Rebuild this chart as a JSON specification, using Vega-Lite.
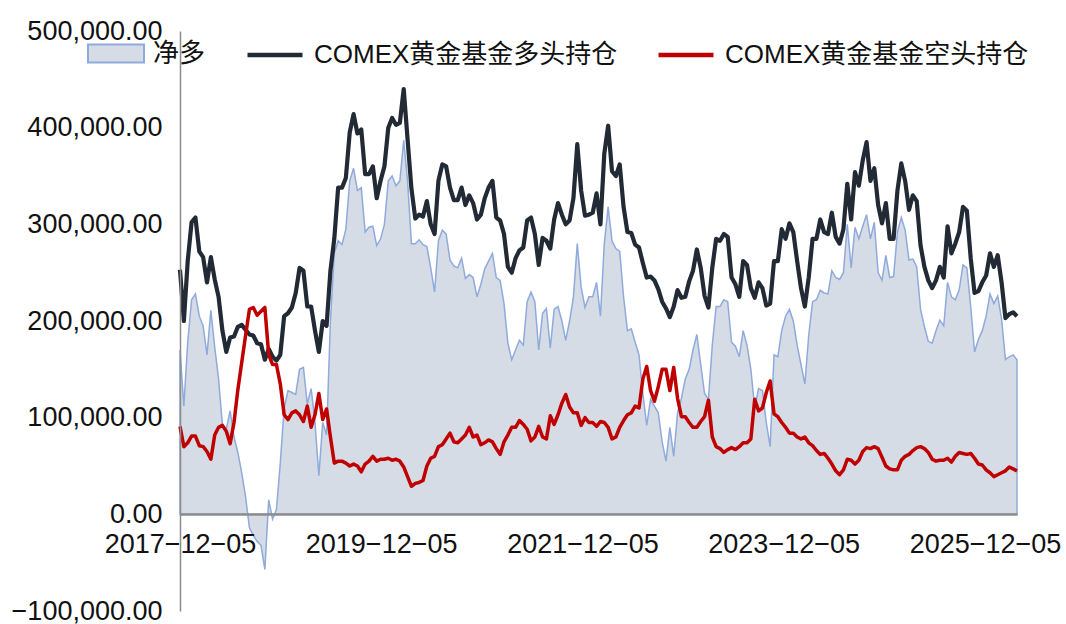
{
"$schema": "https://vega.github.io/schema/vega-lite/v6.json",
"width": 837, "height": 580,
"autosize": {"type": "none"},
"padding": {"left": 180, "top": 31, "right": 49, "bottom": 13},
"background": "white",
"config": {"view": {"stroke": null}, "font": "Liberation Sans"},
"data": {"values": [
{"d":"2017-12-05","l":253000,"s":91000,"n":170000},
{"d":"2017-12-19","l":200000,"s":70000,"n":112000},
{"d":"2018-01-02","l":262000,"s":74000,"n":178000},
{"d":"2018-01-16","l":302000,"s":81000,"n":222000},
{"d":"2018-01-30","l":307000,"s":81000,"n":228000},
{"d":"2018-02-13","l":272000,"s":71000,"n":205000},
{"d":"2018-02-27","l":266000,"s":70000,"n":195000},
{"d":"2018-03-13","l":240000,"s":65000,"n":165000},
{"d":"2018-03-27","l":266000,"s":57000,"n":211000},
{"d":"2018-04-10","l":243000,"s":82000,"n":173000},
{"d":"2018-04-24","l":225000,"s":90000,"n":140000},
{"d":"2018-05-08","l":190000,"s":92000,"n":92000},
{"d":"2018-05-22","l":168000,"s":86000,"n":88000},
{"d":"2018-06-05","l":183000,"s":73000,"n":107000},
{"d":"2018-06-19","l":184000,"s":95000,"n":80000},
{"d":"2018-07-03","l":194000,"s":129000,"n":64000},
{"d":"2018-07-17","l":196000,"s":157000,"n":43000},
{"d":"2018-07-31","l":191000,"s":185000,"n":18000},
{"d":"2018-08-14","l":186000,"s":212000,"n":-14000},
{"d":"2018-08-28","l":185000,"s":214000,"n":-22000},
{"d":"2018-09-11","l":177000,"s":206000,"n":-28000},
{"d":"2018-09-25","l":176000,"s":210000,"n":-32000},
{"d":"2018-10-09","l":160000,"s":214000,"n":-57000},
{"d":"2018-10-23","l":171000,"s":165000,"n":15000},
{"d":"2018-11-06","l":163000,"s":155000,"n":-5000},
{"d":"2018-11-20","l":159000,"s":155000,"n":5000},
{"d":"2018-12-04","l":165000,"s":135000,"n":53000},
{"d":"2018-12-18","l":205000,"s":103000,"n":110000},
{"d":"2019-01-01","l":208000,"s":98000,"n":128000},
{"d":"2019-01-15","l":214000,"s":105000,"n":126000},
{"d":"2019-01-29","l":229000,"s":107000,"n":124000},
{"d":"2019-02-12","l":255000,"s":103000,"n":150000},
{"d":"2019-02-26","l":252000,"s":96000,"n":152000},
{"d":"2019-03-12","l":215000,"s":112000,"n":114000},
{"d":"2019-03-26","l":215000,"s":90000,"n":130000},
{"d":"2019-04-09","l":190000,"s":103000,"n":95000},
{"d":"2019-04-23","l":168000,"s":125000,"n":40000},
{"d":"2019-05-07","l":200000,"s":98000,"n":95000},
{"d":"2019-05-21","l":195000,"s":109000,"n":82000},
{"d":"2019-06-04","l":252000,"s":80000,"n":200000},
{"d":"2019-06-18","l":285000,"s":53000,"n":270000},
{"d":"2019-07-02","l":338000,"s":55000,"n":283000},
{"d":"2019-07-16","l":338000,"s":55000,"n":279000},
{"d":"2019-07-30","l":348000,"s":53000,"n":295000},
{"d":"2019-08-13","l":395000,"s":50000,"n":345000},
{"d":"2019-08-27","l":414000,"s":52000,"n":358000},
{"d":"2019-09-10","l":394000,"s":50000,"n":335000},
{"d":"2019-09-24","l":398000,"s":44000,"n":338000},
{"d":"2019-10-08","l":352000,"s":52000,"n":292000},
{"d":"2019-10-22","l":352000,"s":55000,"n":297000},
{"d":"2019-11-05","l":360000,"s":60000,"n":298000},
{"d":"2019-11-19","l":327000,"s":55000,"n":278000},
{"d":"2019-12-03","l":345000,"s":57000,"n":285000},
{"d":"2019-12-17","l":360000,"s":57000,"n":300000},
{"d":"2019-12-31","l":400000,"s":58000,"n":345000},
{"d":"2020-01-14","l":410000,"s":56000,"n":350000},
{"d":"2020-01-28","l":403000,"s":57000,"n":340000},
{"d":"2020-02-11","l":405000,"s":55000,"n":345000},
{"d":"2020-02-25","l":440000,"s":49000,"n":387000},
{"d":"2020-03-10","l":388000,"s":39000,"n":345000},
{"d":"2020-03-24","l":337000,"s":29000,"n":280000},
{"d":"2020-04-07","l":306000,"s":32000,"n":280000},
{"d":"2020-04-21","l":310000,"s":33000,"n":284000},
{"d":"2020-05-05","l":308000,"s":35000,"n":279000},
{"d":"2020-05-19","l":324000,"s":50000,"n":277000},
{"d":"2020-06-02","l":300000,"s":58000,"n":255000},
{"d":"2020-06-16","l":290000,"s":60000,"n":230000},
{"d":"2020-06-30","l":345000,"s":70000,"n":283000},
{"d":"2020-07-14","l":362000,"s":72000,"n":294000},
{"d":"2020-07-28","l":360000,"s":78000,"n":290000},
{"d":"2020-08-11","l":338000,"s":84000,"n":263000},
{"d":"2020-08-25","l":325000,"s":75000,"n":257000},
{"d":"2020-09-08","l":325000,"s":74000,"n":255000},
{"d":"2020-09-22","l":338000,"s":78000,"n":265000},
{"d":"2020-10-06","l":320000,"s":82000,"n":244000},
{"d":"2020-10-20","l":330000,"s":90000,"n":248000},
{"d":"2020-11-03","l":322000,"s":80000,"n":245000},
{"d":"2020-11-17","l":305000,"s":82000,"n":225000},
{"d":"2020-12-01","l":310000,"s":72000,"n":238000},
{"d":"2020-12-15","l":327000,"s":74000,"n":254000},
{"d":"2020-12-29","l":338000,"s":77000,"n":262000},
{"d":"2021-01-12","l":345000,"s":75000,"n":270000},
{"d":"2021-01-26","l":307000,"s":68000,"n":245000},
{"d":"2021-02-09","l":304000,"s":62000,"n":242000},
{"d":"2021-02-23","l":290000,"s":75000,"n":218000},
{"d":"2021-03-09","l":256000,"s":82000,"n":177000},
{"d":"2021-03-23","l":250000,"s":90000,"n":160000},
{"d":"2021-04-06","l":265000,"s":90000,"n":170000},
{"d":"2021-04-20","l":273000,"s":97000,"n":180000},
{"d":"2021-05-04","l":276000,"s":93000,"n":175000},
{"d":"2021-05-18","l":304000,"s":88000,"n":220000},
{"d":"2021-06-01","l":307000,"s":76000,"n":230000},
{"d":"2021-06-15","l":290000,"s":80000,"n":220000},
{"d":"2021-06-29","l":258000,"s":91000,"n":170000},
{"d":"2021-07-13","l":286000,"s":80000,"n":208000},
{"d":"2021-07-27","l":283000,"s":78000,"n":213000},
{"d":"2021-08-10","l":275000,"s":102000,"n":172000},
{"d":"2021-08-24","l":305000,"s":93000,"n":212000},
{"d":"2021-09-07","l":322000,"s":103000,"n":215000},
{"d":"2021-09-21","l":310000,"s":115000,"n":200000},
{"d":"2021-10-05","l":300000,"s":124000,"n":180000},
{"d":"2021-10-19","l":304000,"s":111000,"n":200000},
{"d":"2021-11-02","l":327000,"s":105000,"n":225000},
{"d":"2021-11-16","l":383000,"s":105000,"n":280000},
{"d":"2021-11-30","l":335000,"s":92000,"n":235000},
{"d":"2021-12-14","l":309000,"s":100000,"n":214000},
{"d":"2021-12-28","l":310000,"s":95000,"n":225000},
{"d":"2022-01-11","l":312000,"s":95000,"n":225000},
{"d":"2022-01-25","l":332000,"s":91000,"n":240000},
{"d":"2022-02-08","l":300000,"s":96000,"n":205000},
{"d":"2022-02-22","l":373000,"s":95000,"n":280000},
{"d":"2022-03-08","l":402000,"s":90000,"n":318000},
{"d":"2022-03-22","l":355000,"s":78000,"n":283000},
{"d":"2022-04-05","l":350000,"s":80000,"n":275000},
{"d":"2022-04-19","l":362000,"s":90000,"n":272000},
{"d":"2022-05-03","l":318000,"s":97000,"n":225000},
{"d":"2022-05-17","l":292000,"s":103000,"n":190000},
{"d":"2022-05-31","l":291000,"s":105000,"n":192000},
{"d":"2022-06-14","l":279000,"s":112000,"n":178000},
{"d":"2022-06-28","l":276000,"s":110000,"n":165000},
{"d":"2022-07-12","l":260000,"s":140000,"n":125000},
{"d":"2022-07-26","l":245000,"s":153000,"n":92000},
{"d":"2022-08-09","l":246000,"s":128000,"n":119000},
{"d":"2022-08-23","l":242000,"s":117000,"n":112000},
{"d":"2022-09-06","l":233000,"s":132000,"n":105000},
{"d":"2022-09-20","l":220000,"s":150000,"n":75000},
{"d":"2022-10-04","l":213000,"s":150000,"n":55000},
{"d":"2022-10-18","l":204000,"s":128000,"n":90000},
{"d":"2022-11-01","l":215000,"s":152000,"n":60000},
{"d":"2022-11-15","l":232000,"s":120000,"n":105000},
{"d":"2022-11-29","l":224000,"s":101000,"n":120000},
{"d":"2022-12-13","l":225000,"s":101000,"n":140000},
{"d":"2022-12-27","l":241000,"s":95000,"n":150000},
{"d":"2023-01-10","l":252000,"s":90000,"n":170000},
{"d":"2023-01-24","l":274000,"s":90000,"n":186000},
{"d":"2023-02-07","l":255000,"s":96000,"n":155000},
{"d":"2023-02-21","l":226000,"s":101000,"n":125000},
{"d":"2023-03-07","l":214000,"s":118000,"n":119000},
{"d":"2023-03-21","l":255000,"s":80000,"n":175000},
{"d":"2023-04-04","l":285000,"s":70000,"n":215000},
{"d":"2023-04-18","l":283000,"s":68000,"n":215000},
{"d":"2023-05-02","l":290000,"s":64000,"n":222000},
{"d":"2023-05-16","l":287000,"s":67000,"n":220000},
{"d":"2023-05-30","l":245000,"s":69000,"n":178000},
{"d":"2023-06-13","l":238000,"s":67000,"n":174000},
{"d":"2023-06-27","l":225000,"s":70000,"n":163000},
{"d":"2023-07-11","l":262000,"s":74000,"n":190000},
{"d":"2023-07-25","l":258000,"s":74000,"n":175000},
{"d":"2023-08-08","l":234000,"s":78000,"n":150000},
{"d":"2023-08-22","l":224000,"s":119000,"n":110000},
{"d":"2023-09-05","l":240000,"s":107000,"n":130000},
{"d":"2023-09-19","l":234000,"s":110000,"n":128000},
{"d":"2023-10-03","l":216000,"s":126000,"n":95000},
{"d":"2023-10-17","l":218000,"s":138000,"n":70000},
{"d":"2023-10-31","l":262000,"s":104000,"n":165000},
{"d":"2023-11-14","l":262000,"s":101000,"n":163000},
{"d":"2023-11-28","l":295000,"s":95000,"n":190000},
{"d":"2023-12-12","l":285000,"s":90000,"n":205000},
{"d":"2023-12-26","l":301000,"s":84000,"n":212000},
{"d":"2024-01-09","l":292000,"s":84000,"n":200000},
{"d":"2024-01-23","l":262000,"s":80000,"n":175000},
{"d":"2024-02-06","l":234000,"s":78000,"n":155000},
{"d":"2024-02-20","l":215000,"s":80000,"n":135000},
{"d":"2024-03-05","l":245000,"s":74000,"n":185000},
{"d":"2024-03-19","l":285000,"s":71000,"n":220000},
{"d":"2024-04-02","l":285000,"s":66000,"n":222000},
{"d":"2024-04-16","l":305000,"s":62000,"n":232000},
{"d":"2024-04-30","l":292000,"s":63000,"n":229000},
{"d":"2024-05-14","l":290000,"s":58000,"n":228000},
{"d":"2024-05-28","l":312000,"s":52000,"n":252000},
{"d":"2024-06-11","l":287000,"s":45000,"n":245000},
{"d":"2024-06-25","l":280000,"s":41000,"n":243000},
{"d":"2024-07-09","l":295000,"s":46000,"n":250000},
{"d":"2024-07-23","l":342000,"s":57000,"n":300000},
{"d":"2024-08-06","l":305000,"s":56000,"n":255000},
{"d":"2024-08-20","l":354000,"s":52000,"n":297000},
{"d":"2024-09-03","l":340000,"s":56000,"n":285000},
{"d":"2024-09-17","l":366000,"s":65000,"n":298000},
{"d":"2024-10-01","l":385000,"s":69000,"n":310000},
{"d":"2024-10-15","l":345000,"s":68000,"n":285000},
{"d":"2024-10-29","l":358000,"s":70000,"n":302000},
{"d":"2024-11-12","l":320000,"s":68000,"n":250000},
{"d":"2024-11-26","l":301000,"s":59000,"n":242000},
{"d":"2024-12-10","l":322000,"s":50000,"n":268000},
{"d":"2024-12-24","l":285000,"s":47000,"n":245000},
{"d":"2025-01-07","l":285000,"s":46000,"n":246000},
{"d":"2025-01-21","l":335000,"s":46000,"n":292000},
{"d":"2025-02-04","l":363000,"s":56000,"n":307000},
{"d":"2025-02-18","l":345000,"s":60000,"n":294000},
{"d":"2025-03-04","l":315000,"s":62000,"n":263000},
{"d":"2025-03-18","l":330000,"s":66000,"n":264000},
{"d":"2025-04-01","l":324000,"s":69000,"n":256000},
{"d":"2025-04-15","l":278000,"s":70000,"n":212000},
{"d":"2025-04-29","l":256000,"s":68000,"n":194000},
{"d":"2025-05-13","l":242000,"s":64000,"n":179000},
{"d":"2025-05-27","l":234000,"s":57000,"n":177000},
{"d":"2025-06-10","l":242000,"s":55000,"n":190000},
{"d":"2025-06-24","l":256000,"s":56000,"n":201000},
{"d":"2025-07-08","l":245000,"s":56000,"n":195000},
{"d":"2025-07-22","l":298000,"s":58000,"n":240000},
{"d":"2025-08-05","l":270000,"s":54000,"n":225000},
{"d":"2025-08-19","l":280000,"s":60000,"n":222000},
{"d":"2025-09-02","l":292000,"s":64000,"n":232000},
{"d":"2025-09-16","l":318000,"s":63000,"n":258000},
{"d":"2025-09-30","l":314000,"s":62000,"n":255000},
{"d":"2025-10-14","l":265000,"s":63000,"n":215000},
{"d":"2025-10-28","l":229000,"s":58000,"n":168000},
{"d":"2025-11-11","l":231000,"s":52000,"n":181000},
{"d":"2025-11-25","l":240000,"s":51000,"n":190000},
{"d":"2025-12-09","l":247000,"s":46000,"n":205000},
{"d":"2025-12-23","l":270000,"s":43000,"n":228000},
{"d":"2026-01-06","l":256000,"s":39000,"n":218000},
{"d":"2026-01-20","l":268000,"s":41000,"n":226000},
{"d":"2026-02-03","l":240000,"s":43000,"n":202000},
{"d":"2026-02-17","l":203000,"s":45000,"n":160000},
{"d":"2026-03-03","l":207000,"s":49000,"n":163000},
{"d":"2026-03-17","l":209000,"s":47000,"n":165000},
{"d":"2026-03-31","l":205000,"s":45000,"n":160000}
]},
"encoding": {
  "x": {"field": "d", "type": "temporal",
    "scale": {"type": "utc", "domain": [{"year": 2017, "month": 12, "date": 5, "utc": true}, {"year": 2026, "month": 3, "date": 31, "utc": true}]},
    "axis": {"title": null, "values": [{"year": 2017, "month": 12, "date": 5, "utc": true}, {"year": 2019, "month": 12, "date": 5, "utc": true}, {"year": 2021, "month": 12, "date": 5, "utc": true}, {"year": 2023, "month": 12, "date": 5, "utc": true}, {"year": 2025, "month": 12, "date": 5, "utc": true}],
      "labelExpr": "utcFormat(datum.value, '%Y−%m−%d')",
      "offset": -97, "ticks": false, "tickSize": 0, "grid": false,
      "domainColor": "#8c8c8c", "domainWidth": 2.5,
      "labelFont": "Liberation Sans", "labelFontSize": 27, "labelColor": "#111111", "labelPadding": 17,
      "labelOverlap": false, "labelFlush": false, "zindex": 1}
  }
},
"layer": [
  {"mark": {"type": "area", "stroke": "#8faadc", "strokeWidth": 1.5, "opacity": 1, "fillOpacity": 1},
   "encoding": {
     "y": {"field": "n", "type": "quantitative",
       "scale": {"domain": [-100000, 500000], "nice": false, "zero": false},
       "axis": {"title": null, "values": [-100000, 0, 100000, 200000, 300000, 400000, 500000], "format": ",.2f",
         "ticks": false, "tickSize": 0, "grid": false, "domainColor": "#8c8c8c", "domainWidth": 1.5,
         "labelFont": "Liberation Sans", "labelFontSize": 27, "labelColor": "#111111", "labelPadding": 18, "zindex": 1}},
     "fill": {"datum": "净多", "scale": {"domain": ["净多"], "range": ["#d6dce5"]},
       "legend": {"title": null, "orient": "none", "legendX": -93, "legendY": -6.5, "padding": 0,
         "symbolType": "M-1,-0.32H1V0.32H-1Z", "symbolSize": 3136, "symbolStrokeColor": "#8faadc", "symbolStrokeWidth": 2, "symbolOpacity": 1,
         "labelFont": "Liberation Sans, Noto Sans CJK SC", "labelFontSize": 26, "labelColor": "#111111", "labelOffset": 8, "labelLimit": 400}}
   }},
  {"mark": {"type": "line", "strokeWidth": 4.2, "strokeJoin": "round"},
   "encoding": {
     "y": {"field": "l", "type": "quantitative"},
     "stroke": {"datum": "COMEX黄金基金多头持仓",
       "scale": {"domain": ["COMEX黄金基金多头持仓", "COMEX黄金基金空头持仓"], "range": ["#222a35", "#c00000"]},
       "legend": {"title": null, "orient": "none", "direction": "horizontal", "legendX": 65, "legendY": -6, "padding": 0,
         "symbolType": "stroke", "symbolSize": 3025, "symbolStrokeWidth": 4.5, "columnPadding": 31,
         "labelFont": "Liberation Sans, Noto Sans CJK SC", "labelFontSize": 26, "labelColor": "#111111", "labelOffset": 9, "labelLimit": 600}}
   }},
  {"mark": {"type": "line", "strokeWidth": 3.5, "strokeJoin": "round"},
   "encoding": {
     "y": {"field": "s", "type": "quantitative"},
     "stroke": {"datum": "COMEX黄金基金空头持仓"}
   }}
]
}
